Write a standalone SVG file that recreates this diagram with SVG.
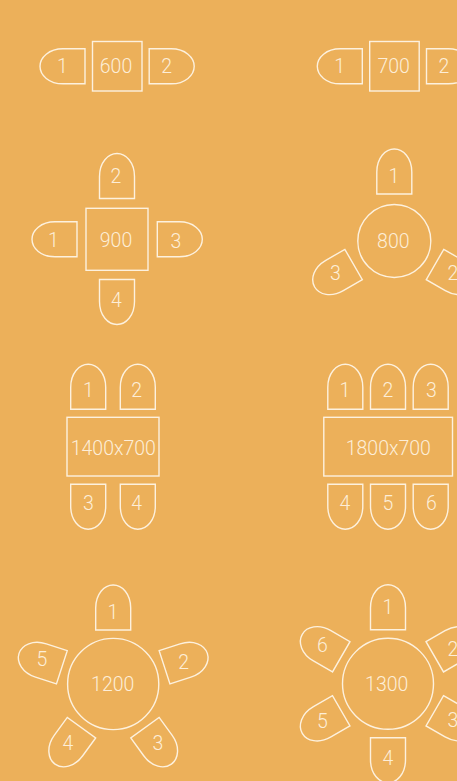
<svg xmlns="http://www.w3.org/2000/svg" xmlns:xlink="http://www.w3.org/1999/xlink" width="457" height="781" viewBox="0 0 457 781">
<style>
.s{fill:none;stroke:#fdf1de;stroke-width:1.4}
text{font-family:Roboto,"Liberation Sans",Arial,sans-serif;font-weight:300;font-size:19.5px;fill:#fdeed8;text-anchor:middle}
</style>
<defs><path id="c" class="s" d="M-17.5 0V-22C-17.5 -36 -9 -45 0 -45C9 -45 17.5 -36 17.5 -22V0Z"/></defs>
<rect width="457" height="781" fill="#ecb05a"/>
<g id="table-600">
<rect class="s" x="92.5" y="41.5" width="49.5" height="49.5"/>
<use href="#c" transform="translate(85 66.3) rotate(-90)"/><use href="#c" transform="translate(149.2 66.3) rotate(90)"/>
<text x="116" y="73">600</text><text x="62.5" y="73">1</text><text x="166.7" y="73">2</text>
</g>
<g id="table-700">
<rect class="s" x="369.7" y="41.5" width="49.5" height="49.5"/>
<use href="#c" transform="translate(362.3 66.3) rotate(-90)"/><use href="#c" transform="translate(426.5 66.3) rotate(90)"/>
<text x="393.7" y="73">700</text><text x="339.7" y="73">1</text><text x="444" y="73">2</text>
</g>
<g id="table-900">
<rect class="s" x="86" y="208.3" width="62" height="62"/>
<use href="#c" transform="translate(117 198.5)"/><use href="#c" transform="translate(77 239.3) rotate(-90)"/><use href="#c" transform="translate(157.3 239.3) rotate(90)"/><use href="#c" transform="translate(117 279.5) rotate(180)"/>
<text x="116" y="247">900</text><text x="116" y="183">2</text><text x="53.5" y="247">1</text><text x="176" y="247.5">3</text><text x="116.5" y="307">4</text>
</g>
<g id="table-800">
<circle class="s" cx="394.3" cy="241" r="36.5"/>
<use href="#c" transform="translate(394.3 194)"/><use href="#c" transform="translate(435 264.5) rotate(120)"/><use href="#c" transform="translate(353.6 264.5) rotate(240)"/>
<text x="393.3" y="248">800</text><text x="394" y="183">1</text><text x="453" y="280">2</text><text x="335.3" y="280">3</text>
</g>
<g id="table-1400x700">
<rect class="s" x="67" y="417.3" width="92" height="58.7"/>
<use href="#c" transform="translate(88.2 409.3)"/><use href="#c" transform="translate(137.8 409.3)"/><use href="#c" transform="translate(88.2 484.3) rotate(180)"/><use href="#c" transform="translate(137.8 484.3) rotate(180)"/>
<text x="113.3" y="455">1400x700</text><text x="88.3" y="397">1</text><text x="136.7" y="397">2</text><text x="88.3" y="510">3</text><text x="136.7" y="510">4</text>
</g>
<g id="table-1800x700">
<rect class="s" x="323.8" y="417.3" width="128.7" height="58.7"/>
<use href="#c" transform="translate(345.3 409.3)"/><use href="#c" transform="translate(388 409.3)"/><use href="#c" transform="translate(430.7 409.3)"/><use href="#c" transform="translate(345.3 484.3) rotate(180)"/><use href="#c" transform="translate(388 484.3) rotate(180)"/><use href="#c" transform="translate(430.7 484.3) rotate(180)"/>
<text x="388.3" y="455">1800x700</text><text x="345" y="397">1</text><text x="388" y="397">2</text><text x="431.3" y="397">3</text><text x="345" y="510">4</text><text x="388" y="510">5</text><text x="431.3" y="510">6</text>
</g>
<g id="table-1200">
<circle class="s" cx="113.2" cy="684" r="45.6"/>
<g transform="translate(113.2 684)"><use href="#c" transform="rotate(0) translate(0 -54)"/><use href="#c" transform="rotate(72) translate(0 -54)"/><use href="#c" transform="rotate(144) translate(0 -54)"/><use href="#c" transform="rotate(216) translate(0 -54)"/><use href="#c" transform="rotate(288) translate(0 -54)"/></g>
<text x="112.7" y="691">1200</text><text x="113" y="618.5">1</text><text x="183.7" y="668.5">2</text><text x="158" y="750">3</text><text x="68" y="750">4</text><text x="42" y="666.3">5</text>
</g>
<g id="table-1300">
<circle class="s" cx="388" cy="683.8" r="45.5"/>
<g transform="translate(388 683.8)"><use href="#c" transform="rotate(0) translate(0 -54)"/><use href="#c" transform="rotate(60) translate(0 -54)"/><use href="#c" transform="rotate(120) translate(0 -54)"/><use href="#c" transform="rotate(180) translate(0 -54)"/><use href="#c" transform="rotate(240) translate(0 -54)"/><use href="#c" transform="rotate(300) translate(0 -54)"/></g>
<text x="386.7" y="691">1300</text><text x="388" y="614">1</text><text x="453" y="656">2</text><text x="453" y="727">3</text><text x="388" y="765">4</text><text x="322.3" y="727.5">5</text><text x="322.3" y="652">6</text>
</g>
</svg>
